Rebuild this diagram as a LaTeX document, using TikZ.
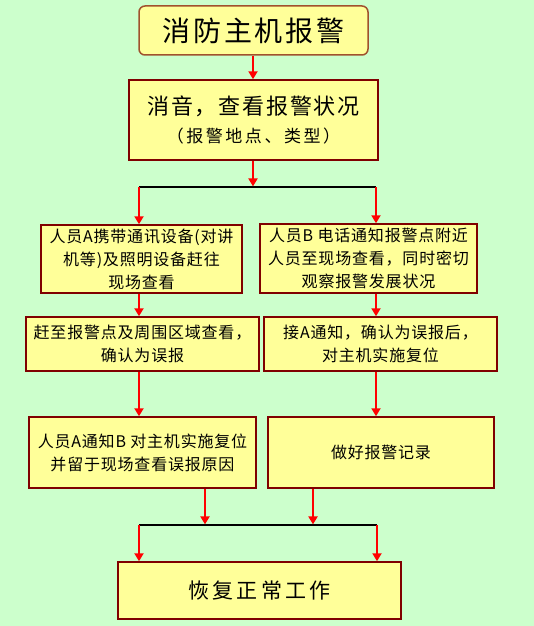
\documentclass[tikz,border=0pt]{standalone}
\usepackage{fontspec}
\setmainfont{Noto Sans CJK SC}
\newfontfamily\spA[LetterSpace=5]{Noto Sans CJK SC}
\newfontfamily\spB[LetterSpace=8]{Noto Sans CJK SC}
\newfontfamily\spC[LetterSpace=10]{Noto Sans CJK SC}
\newfontfamily\spD[LetterSpace=15]{Noto Sans CJK SC}
\usetikzlibrary{arrows.meta}
\definecolor{bg}{HTML}{CCFFCC}
\definecolor{boxfill}{HTML}{FFFF99}
\definecolor{boxline}{HTML}{800000}
\definecolor{titleline}{HTML}{A0522D}
\definecolor{arrowred}{HTML}{FF0000}
\tikzset{
  box/.style={draw=boxline, line width=1.5pt, fill=boxfill, inner sep=0pt, align=center,
    font=\spA\fontsize{16}{23}\selectfont},
  titlebox/.style={draw=titleline, line width=1.5pt, fill=boxfill, rounded corners=6pt,
    inner sep=0pt, font=\spC\fontsize{28}{32}\selectfont},
  arr/.style={draw=arrowred, line width=2.5pt, -{Triangle[width=9pt,length=8pt]}},
  junc/.style={draw=black, line width=1.2pt}
}
\begin{document}
\begin{tikzpicture}[x=1pt,y=-1pt]
\fill[bg] (0,0) rectangle (534,626);
\useasboundingbox (0,0) rectangle (534,626);

\node[titlebox, minimum width=229pt, minimum height=49pt] (b1) at (253.5,30.5) {消防主机报警};
\node[box, minimum width=249pt, minimum height=80pt, font=\spB\fontsize{22}{28}\selectfont] (b2) at (253.5,120)
  {消音，查看报警状况\\{\spD\fontsize{17}{28}\selectfont （报警地点、类型）}};
\node[box, minimum width=201pt, minimum height=68pt] (b3) at (141.5,259)
  {人员A携带通讯设备(对讲\\机等)及照明设备赶往\\现场查看};
\node[box, minimum width=217pt, minimum height=69pt] (b4) at (368.5,258.5)
  {人员B 电话通知报警点附近\\人员至现场查看，同时密切\\观察报警发展状况};
\node[box, minimum width=233pt, minimum height=54pt] (b5) at (142.5,344)
  {赶至报警点及周围区域查看，\\确认为误报};
\node[box, minimum width=233pt, minimum height=54pt] (b6) at (380.5,344)
  {接A通知，确认为误报后，\\对主机实施复位};
\node[box, minimum width=227pt, minimum height=71pt] (b7) at (142.5,452.5)
  {人员A通知B 对主机实施复位\\并留于现场查看误报原因};
\node[box, minimum width=226pt, minimum height=71pt] (b8) at (381,452.5)
  {做好报警记录};
\node[box, minimum width=283pt, minimum height=57pt, font=\spD\fontsize{21}{26}\selectfont] (b9) at (259.5,590.5)
  {恢复正常工作};

\coordinate (j0) at (253,187);
\coordinate (jl) at (139,187);
\coordinate (jr) at (376,187);
\coordinate (k0l) at (205,525);
\coordinate (k0r) at (313,525);
\coordinate (kl) at (139,525);
\coordinate (kr) at (377,525);

\draw[arr] (b1.south -| j0) -- (b2.north -| j0);
\draw[junc] (jl) -- (jr);
\draw[arr] (b2.south -| j0) -- ([yshift=0.6pt]j0);
\draw[arr] (jl) -- (b3.north -| jl);
\draw[arr] (jr) -- (b4.north -| jr);
\draw[arr] (b3.south -| jl) -- (b5.north -| jl);
\draw[arr] (b4.south -| jr) -- (b6.north -| jr);
\draw[arr] (b5.south -| jl) -- (b7.north -| jl);
\draw[arr] (b6.south -| jr) -- (b8.north -| jr);
\draw[junc] (kl) -- (kr);
\draw[arr] (b7.south -| k0l) -- ([yshift=0.6pt]k0l);
\draw[arr] (b8.south -| k0r) -- ([yshift=0.6pt]k0r);
\draw[arr] (kl) -- (b9.north -| kl);
\draw[arr] (kr) -- (b9.north -| kr);
\end{tikzpicture}
\end{document}
